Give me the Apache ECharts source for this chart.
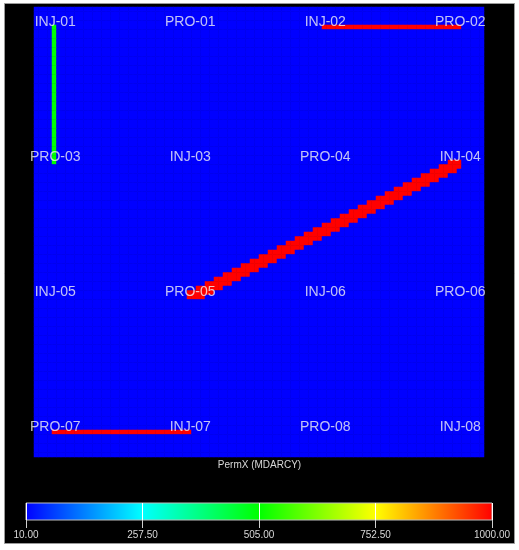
<!DOCTYPE html>
<html>
<head>
<meta charset="utf-8">
<title>PermX</title>
<script src="https://cdn.jsdelivr.net/npm/echarts@6/dist/echarts.min.js"></script>
<style>
  html, body {
    margin: 0;
    padding: 0;
    background: #fff;
  }
  #chart {
    width: 519px;
    height: 550px;
  }
</style>
</head>
<body>
<div id="chart"></div>
<script>
// grid of 100 x 100 cells, row 0 is the top row
const gridSize = 100
const basePerm = 10

// wells: 4 x 4 pattern
const wellCols = [4, 34, 64, 94]
const wellRows = [4, 34, 64, 94]
const wellNames = [
  ['INJ-01', 'PRO-01', 'INJ-02', 'PRO-02'],
  ['PRO-03', 'INJ-03', 'PRO-04', 'INJ-04'],
  ['INJ-05', 'PRO-05', 'INJ-06', 'PRO-06'],
  ['PRO-07', 'INJ-07', 'PRO-08', 'INJ-08']
]

// high perm channels: [colStart, colEnd, rowStart, rowEnd, permX]
const channels = [
  [4, 4, 4, 34, 505],
  [64, 94, 4, 4, 1000],
  [4, 34, 94, 94, 1000],
  // diagonal PRO-05 -> INJ-04, one block per row
  [34, 37, 64, 64, 1000],
  [34, 39, 63, 63, 1000],
  [36, 41, 62, 62, 1000],
  [38, 43, 61, 61, 1000],
  [40, 45, 60, 60, 1000],
  [42, 47, 59, 59, 1000],
  [44, 49, 58, 58, 1000],
  [46, 51, 57, 57, 1000],
  [48, 53, 56, 56, 1000],
  [50, 55, 55, 55, 1000],
  [52, 57, 54, 54, 1000],
  [54, 59, 53, 53, 1000],
  [56, 61, 52, 52, 1000],
  [58, 63, 51, 51, 1000],
  [60, 65, 50, 50, 1000],
  [62, 67, 49, 49, 1000],
  [64, 69, 48, 48, 1000],
  [66, 71, 47, 47, 1000],
  [68, 73, 46, 46, 1000],
  [70, 75, 45, 45, 1000],
  [72, 77, 44, 44, 1000],
  [74, 79, 43, 43, 1000],
  [76, 81, 42, 42, 1000],
  [78, 83, 41, 41, 1000],
  [80, 85, 40, 40, 1000],
  [82, 87, 39, 39, 1000],
  [84, 89, 38, 38, 1000],
  [86, 91, 37, 37, 1000],
  [88, 93, 36, 36, 1000],
  [90, 94, 35, 35, 1000],
  [92, 94, 34, 34, 1000]
]

// colour bar
const cbMin = 10
const cbMax = 1000
const cbTicks = [10, 257.5, 505, 752.5, 1000]
const cbColors = ['#0000ff', '#00ffff', '#00ff00', '#ffff00', '#ff0000']

let field = []
for (let r = 0; r < gridSize; r++) {
  field.push(new Array(gridSize).fill(basePerm))
}
channels.forEach(function (c) {
  for (let r = c[2]; r <= c[3]; r++) {
    for (let col = c[0]; col <= c[1]; col++) {
      field[r][col] = c[4]
    }
  }
})

let cells = []
for (let r = 0; r < gridSize; r++) {
  for (let col = 0; col < gridSize; col++) {
    cells.push([col, r, field[r][col]])
  }
}

let wells = []
wellRows.forEach(function (row, i) {
  wellCols.forEach(function (col, j) {
    wells.push({ value: [col, row], name: wellNames[i][j] })
  })
})

let idx = []
for (let i = 0; i < gridSize; i++) idx.push(i)

let myChart = echarts.init(document.getElementById('chart'))
let opt = {
  animation: false,
  backgroundColor: '#fff',
  textStyle: {
    fontFamily: 'Liberation Sans, Arial, sans-serif'
  },
  graphic: [{
    type: 'rect',
    z: -10,
    shape: { x: 4.5, y: 3.5, width: 510, height: 540 },
    style: { fill: '#000', stroke: '#9a9a9a', lineWidth: 1 }
  }],
  title: {
    text: 'PermX (MDARCY)',
    left: 'center',
    top: 460,
    padding: 0,
    textStyle: {
      color: '#d8d8d8',
      fontSize: 10,
      fontWeight: 'normal'
    }
  },
  grid: [
    { left: 34, top: 7, width: 450, height: 450 },
    { left: 26, top: 503, width: 466, height: 17 }
  ],
  xAxis: [
    { type: 'category', gridIndex: 0, data: idx, show: false },
    {
      type: 'value',
      gridIndex: 1,
      min: cbMin,
      max: cbMax,
      interval: 247.5,
      z: 10,
      axisLine: { show: false },
      axisTick: { show: true, length: 8, lineStyle: { color: '#cfcfcf' } },
      splitLine: { show: true, lineStyle: { color: '#ffffff', width: 1 } },
      axisLabel: {
        color: '#d8d8d8',
        fontSize: 10,
        margin: 10,
        formatter: function (v) { return v.toFixed(2) }
      }
    }
  ],
  yAxis: [
    { type: 'category', gridIndex: 0, data: idx, inverse: true, show: false },
    { type: 'value', gridIndex: 1, min: 0, max: 1, show: false }
  ],
  visualMap: {
    show: false,
    min: cbMin,
    max: cbMax,
    seriesIndex: 0,
    inRange: { color: cbColors }
  },
  series: [
    {
      type: 'heatmap',
      xAxisIndex: 0,
      yAxisIndex: 0,
      data: cells,
      progressive: 0,
      itemStyle: { borderWidth: 0 },
      emphasis: { disabled: true }
    },
    {
      type: 'scatter',
      xAxisIndex: 0,
      yAxisIndex: 0,
      data: wells,
      symbolSize: 1,
      itemStyle: { color: 'transparent' },
      z: 5,
      label: {
        show: true,
        position: 'inside',
        offset: [1, -5],
        formatter: '{b}',
        color: '#f2f2f2',
        fontSize: 14
      }
    },
    {
      type: 'line',
      xAxisIndex: 1,
      yAxisIndex: 1,
      data: [],
      silent: true,
      markArea: {
        silent: true,
        itemStyle: {
          color: new echarts.graphic.LinearGradient(0, 0, 1, 0, cbColors.map(function (c, i) {
            return { offset: i / (cbColors.length - 1), color: c }
          })),
          borderColor: '#bdbdbd',
          borderWidth: 1
        },
        data: [[{ xAxis: cbMin }, { xAxis: cbMax }]]
      }
    }
  ]
}
myChart.setOption(opt, true)
</script>
</body>
</html>
